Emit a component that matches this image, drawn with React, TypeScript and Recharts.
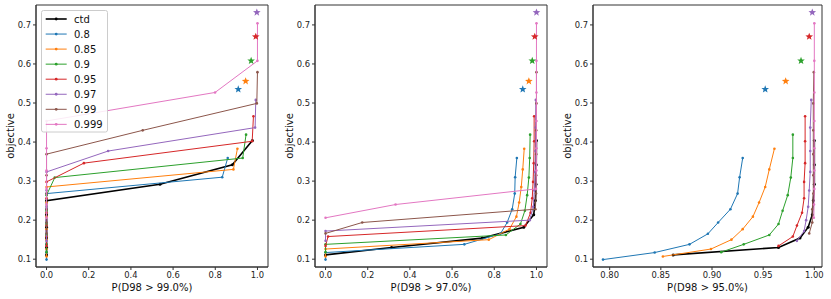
import { ReferenceArea, Scatter, ScatterChart, XAxis, YAxis } from 'recharts';

const FONT = 'DejaVu Sans, Verdana, sans-serif';

const labels = ['ctd', '0.8', '0.85', '0.9', '0.95', '0.97', '0.99', '0.999'];
const COLORS = ['#000000', '#1f77b4', '#ff7f0e', '#2ca02c', '#d62728', '#9467bd', '#8c564b', '#e377c2'];

// objective value of each point, one row per series (same order as labels)
const objective = [
  [0.111, 0.13, 0.154, 0.182, 0.214, 0.25, 0.292, 0.342, 0.404],
  [0.099, 0.117, 0.138, 0.165, 0.194, 0.228, 0.268, 0.31, 0.359],
  [0.107, 0.126, 0.15, 0.177, 0.209, 0.245, 0.285, 0.33, 0.383],
  [0.118, 0.138, 0.162, 0.19, 0.224, 0.264, 0.309, 0.359, 0.419],
  [0.134, 0.158, 0.186, 0.219, 0.256, 0.298, 0.346, 0.402, 0.466],
  [0.147, 0.172, 0.2, 0.234, 0.276, 0.3235, 0.377, 0.437, 0.508],
  [0.166, 0.194, 0.228, 0.268, 0.315, 0.369, 0.43, 0.499, 0.579],
  [0.206, 0.24, 0.28, 0.327, 0.384, 0.454, 0.527, 0.608, 0.704],
];

// P(D98 > 99.0%)
const p99 = [
  [0, 0, 0, 0, 0, 0, 0.538, 0.881, 0.976],
  [0, 0, 0, 0, 0, 0, 0, 0.833, 0.859],
  [0, 0, 0, 0, 0, 0, 0, 0.886, 0.905],
  [0, 0, 0, 0, 0, 0, 0.039, 0.93, 0.946],
  [0, 0, 0, 0, 0, 0, 0.177, 0.975, 0.981],
  [0, 0, 0, 0, 0, 0, 0.292, 0.989, 0.992],
  [0, 0, 0, 0, 0, 0, 0.456, 0.997, 1.0],
  [0, 0, 0, 0, 0, 0, 0.799, 1.0, 1.0],
];

// P(D98 > 97.0%)
const p97 = [
  [0, 0.313, 0.743, 0.94, 0.987, 0.995, 0.998, 0.999, 1.0],
  [0, 0, 0.658, 0.829, 0.861, 0.885, 0.897, 0.899, 0.907],
  [0, 0, 0.774, 0.872, 0.905, 0.918, 0.928, 0.935, 0.942],
  [0, 0, 0.855, 0.924, 0.945, 0.956, 0.964, 0.968, 0.97],
  [0, 0.012, 0.948, 0.972, 0.98, 0.984, 0.987, 0.989, 0.989],
  [0, 0, 0.968, 0.985, 0.99, 0.993, 0.995, 0.996, 0.997],
  [0, 0.174, 0.995, 0.998, 0.999, 0.999, 0.999, 1.0, 1.0],
  [0, 0.332, 0.998, 1.0, 1.0, 1.0, 1.0, 1.0, 1.0],
];

// P(D98 > 95.0%)
const p95 = [
  [0.862, 0.965, 0.986, 0.994, 0.998, 0.999, 1.0, 1.0, 1.0],
  [0.7935, 0.844, 0.878, 0.896, 0.906, 0.918, 0.925, 0.927, 0.93],
  [0.852, 0.899, 0.919, 0.93, 0.94, 0.946, 0.952, 0.956, 0.961],
  [0.909, 0.931, 0.956, 0.965, 0.969, 0.974, 0.977, 0.979, 0.979],
  [0.965, 0.979, 0.983, 0.988, 0.99, 0.99, 0.991, 0.991, 0.991],
  [0.983, 0.99, 0.992, 0.994, 0.995, 0.996, 0.996, 0.996, 0.997],
  [0.995, 0.998, 0.998, 0.999, 0.999, 0.999, 0.999, 0.999, 0.9995],
  [0.9995, 0.9997, 1.0, 1.0, 1.0, 1.0, 1.0, 1.0, 1.0],
];

// star markers for 0.8 .. 0.97
const starObjective = [0.535, 0.556, 0.608, 0.67, 0.732];
const starP99 = [0.909, 0.944, 0.97, 0.992, 0.997];
const starP97 = [0.935, 0.964, 0.98, 0.992, 1.0];
const starP95 = [0.952, 0.972, 0.987, 0.995, 0.998];

const yTicks = [0.1, 0.2, 0.3, 0.4, 0.5, 0.6, 0.7];
const unitTicks = [0, 0.2, 0.4, 0.6, 0.8, 1.0];
const p95Ticks = [0.8, 0.85, 0.9, 0.95, 1.0];

const Y_DOMAIN: [number, number] = [0.08, 0.751];

const dot = (color: string, r: number) => (p: any) => (
  <circle cx={p.cx} cy={p.cy} r={r} fill={color} />
);

const star = (color: string) => (p: any) => {
  const pts: string[] = [];
  for (let k = 0; k < 10; k++) {
    const r = k % 2 === 0 ? 4 : 1.7;
    const a = -Math.PI / 2 + (k * Math.PI) / 5;
    pts.push(`${p.cx + r * Math.cos(a)},${p.cy + r * Math.sin(a)}`);
  }
  return <polygon points={pts.join(' ')} fill={color} />;
};

type PanelProps = {
  left: number;
  width: number;
  right: number;
  yWidth: number;
  probs: number[][];
  starP: number[];
  domain: [number, number];
  ticks: number[];
  digits: number;
  xLabel: string;
};

function Panel({ left, width, right, yWidth, probs, starP, domain, ticks, digits, xLabel }: PanelProps) {
  const rows = labels.map((_, i) => objective[i].map((y, j) => ({ x: probs[i][j], y })));
  const tickStyle = { fontSize: 8.4, fill: '#222', fontFamily: FONT };

  return (
    <div style={{ position: 'absolute', left, top: 0 }}>
      <ScatterChart width={width} height={299} margin={{ top: 5, right, bottom: 0, left: 0 }}>
        <XAxis
          type="number"
          dataKey="x"
          domain={domain}
          ticks={ticks}
          allowDataOverflow
          height={32}
          tickSize={3}
          stroke="#333"
          tick={tickStyle}
          tickFormatter={(v: number) => v.toFixed(digits)}
          label={(props: any) => {
            const vb = props.viewBox;
            return (
              <text
                x={vb.x + vb.width / 2}
                y={vb.y + 23.5}
                textAnchor="middle"
                fontSize={10}
                fontFamily={FONT}
                fill="#111"
              >
                {xLabel}
              </text>
            );
          }}
        />
        <YAxis
          type="number"
          dataKey="y"
          domain={Y_DOMAIN}
          ticks={yTicks}
          allowDataOverflow
          width={yWidth}
          tickSize={3}
          stroke="#333"
          tick={tickStyle}
          tickFormatter={(v: number) => v.toFixed(1)}
          label={(props: any) => {
            const vb = props.viewBox;
            const cx = vb.x + vb.width - 22;
            const cy = vb.y + vb.height / 2;
            return (
              <text
                x={cx}
                y={cy}
                transform={`rotate(-90 ${cx} ${cy})`}
                textAnchor="middle"
                fontSize={10}
                fontFamily={FONT}
                fill="#111"
              >
                objective
              </text>
            );
          }}
        />
        <ReferenceArea
          x1={domain[0]}
          x2={domain[1]}
          y1={Y_DOMAIN[0]}
          y2={Y_DOMAIN[1]}
          fill="none"
          stroke="#333"
          strokeWidth={1}
        />
        {labels.map((name, i) => (
          <Scatter
            key={name}
            name={name}
            data={rows[i]}
            fill={COLORS[i]}
            line={{ stroke: COLORS[i], strokeWidth: i === 0 ? 1.6 : 1 }}
            lineType="joint"
            shape={dot(COLORS[i], i === 0 ? 1.5 : 1.3)}
            isAnimationActive={false}
          />
        ))}
        {starObjective.map((y, i) => (
          <Scatter
            key={`star-${i}`}
            data={[{ x: starP[i], y }]}
            fill={COLORS[i + 1]}
            shape={star(COLORS[i + 1])}
            isAnimationActive={false}
          />
        ))}
      </ScatterChart>
    </div>
  );
}

function LegendBox() {
  return (
    <svg
      width={120}
      height={140}
      style={{ position: 'absolute', left: 0, top: 0, pointerEvents: 'none' }}
    >
      <rect x={41.5} y={10.5} width={66} height={121.5} rx={2} fill="#fff" fillOpacity={0.85} stroke="#ccc" />
      {labels.map((name, i) => {
        const y = 19 + i * 15.05;
        return (
          <g key={name}>
            <line x1={45.7} x2={66.7} y1={y} y2={y} stroke={COLORS[i]} strokeWidth={i === 0 ? 1.6 : 1} />
            <circle cx={56.2} cy={y} r={1.4} fill={COLORS[i]} />
            <text x={74} y={y} dominantBaseline="central" fontSize={10} fontFamily={FONT} fill="#111">
              {name}
            </text>
          </g>
        );
      })}
    </svg>
  );
}

export default function App() {
  return (
    <div style={{ position: 'absolute', left: 0, top: 0, width: 831, height: 299, background: '#fff' }}>
      <Panel
        left={0}
        width={270}
        right={2}
        yWidth={36}
        probs={p99}
        starP={starP99}
        domain={[-0.05, 1.05]}
        ticks={unitTicks}
        digits={1}
        xLabel="P(D98 > 99.0%)"
      />
      <Panel
        left={278}
        width={272}
        right={3}
        yWidth={37}
        probs={p97}
        starP={starP97}
        domain={[-0.05, 1.05]}
        ticks={unitTicks}
        digits={1}
        xLabel="P(D98 > 97.0%)"
      />
      <Panel
        left={556}
        width={275}
        right={9}
        yWidth={37}
        probs={p95}
        starP={starP95}
        domain={[0.7837, 1.0075]}
        ticks={p95Ticks}
        digits={2}
        xLabel="P(D98 > 95.0%)"
      />
      <LegendBox />
    </div>
  );
}
